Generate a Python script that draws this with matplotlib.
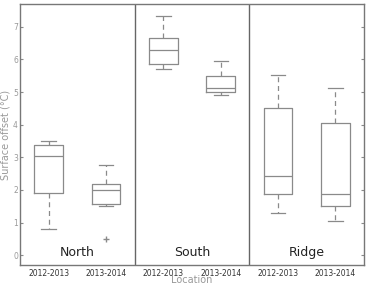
import matplotlib
matplotlib.use("Agg")
import matplotlib.pyplot as plt

locations = ["North", "South", "Ridge"]
seasons = ["2012-2013", "2013-2014"]
# per box: whislo, q1, med, q3, whishi
whislo = [0.82, 1.50, 5.71, 4.92, 1.31, 1.06]
q1 = [1.90, 1.56, 5.87, 4.99, 1.87, 1.50]
med = [3.05, 2.00, 6.29, 5.12, 2.44, 1.88]
q3 = [3.38, 2.19, 6.67, 5.49, 4.50, 4.06]
whishi = [3.50, 2.77, 7.32, 5.94, 5.51, 5.12]
fliers = [[], [0.50], [], [], [], []]
yticks = [0, 1, 2, 3, 4, 5, 6, 7]

gray = "#8a8a8a"
fig = plt.figure(figsize=(3.7, 2.85), dpi=100)
ax = fig.add_axes([0.054, 0.07, 0.930, 0.916])

stats = []
for i in range(6):
    stats.append(dict(whislo=whislo[i], q1=q1[i], med=med[i], q3=q3[i],
                      whishi=whishi[i], fliers=fliers[i]))
positions = list(range(1, 7))
ax.bxp(stats, positions=positions, widths=0.5, showfliers=True,
       boxprops=dict(color=gray, linewidth=0.9),
       medianprops=dict(color=gray, linewidth=0.9),
       whiskerprops=dict(color=gray, linewidth=0.9, linestyle=(0, (4, 3))),
       capprops=dict(color=gray, linewidth=0.9),
       flierprops=dict(marker="+", markeredgecolor=gray, markersize=4, linestyle="none"))

ax.set_xlim(0.5, 6.5)
ax.set_ylim(-0.3, 7.7)
for xd in [2.5, 4.5]:
    ax.axvline(xd, color="#666666", linewidth=1.0)
for i, loc in enumerate(locations):
    ax.text(1.5 + 2 * i, -0.12, loc, ha="center", va="bottom", fontsize=9, color="#222222")

ax.set_xticks(positions)
ax.set_xticklabels(seasons * 3, fontsize=5.5, color="#333333")
ax.set_yticks(yticks)
ax.set_yticklabels([str(t) for t in yticks], fontsize=5.5, color="#999999")
ax.tick_params(axis="y", direction="in", length=2.5, color=gray, right=True, pad=1.5)
ax.tick_params(axis="x", length=0, pad=2.5)
for s in ax.spines.values():
    s.set_color("#777777")
    s.set_linewidth(1.0)
ax.set_ylabel("Surface offset (°C)", fontsize=7, color="#999999", va="center")
ax.set_xlabel("Location", fontsize=7, color="#999999", va="center")
ax.yaxis.set_label_coords(-0.043, 0.5)
ax.xaxis.set_label_coords(0.5, -0.058)
fig.savefig("out.png", dpi=100)
